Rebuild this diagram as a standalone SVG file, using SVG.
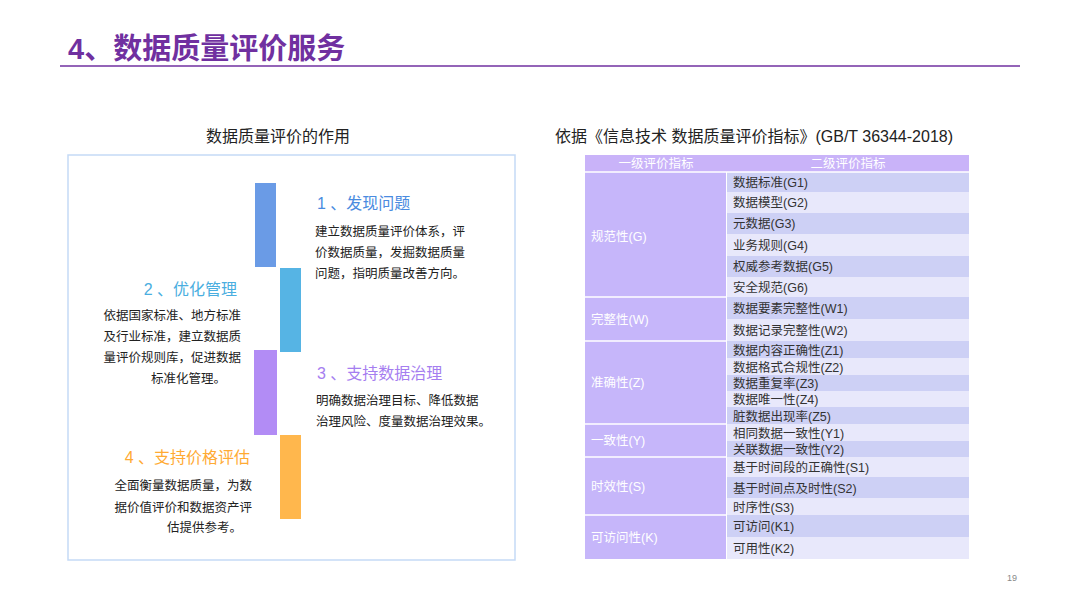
<svg xmlns="http://www.w3.org/2000/svg" width="1080" height="608" viewBox="0 0 1080 608">
<style>
text{font-family:"Liberation Sans","Noto Sans CJK SC",sans-serif}
.h{font-size:16px;fill:#222}
.body{font-size:12.5px;fill:#222}
.c1{fill:#c6b6fa}
.a{fill:#cdd0f5}
.b{fill:#e8e8fb}
.t1{font-size:12.5px;fill:#fff}
.t2{font-size:12.5px;fill:#333}
.sep{stroke:#fff;stroke-width:1.5}
</style>
<rect width="1080" height="608" fill="#fff"/>
<g id="title">
<text x="68" y="59" font-size="29" font-weight="bold" fill="#7030a0">4、数据质量评价服务</text>
<line x1="60" y1="66" x2="1020" y2="66" stroke="#7030a0" stroke-width="1.5"/>
</g>
<text class="h" x="278" y="142" text-anchor="middle">数据质量评价的作用</text>
<text class="h" x="555" y="142">依据《信息技术 数据质量评价指标》(GB/T 36344-2018)</text>
<g id="panel">
<rect x="68" y="155" width="447" height="405" fill="#fff" stroke="#c5daf6" stroke-width="1.5"/>
</g>
<g id="item1">
<rect x="255" y="183" width="21" height="84" fill="#6a9be6"/>
<text x="317" y="209" font-size="16" fill="#4a8be0">1 、发现问题</text>
<text class="body" x="315" y="236">建立数据质量评价体系，评</text>
<text class="body" x="315" y="257">价数据质量，发掘数据质量</text>
<text class="body" x="315" y="278">问题，指明质量改善方向。</text>
</g>
<g id="item2">
<rect x="280" y="268" width="21" height="84" fill="#56b4e4"/>
<text x="237" y="295" font-size="16" fill="#4aaee0" text-anchor="end">2 、优化管理</text>
<text class="body" x="241" y="320" text-anchor="end">依据国家标准、地方标准</text>
<text class="body" x="241" y="341" text-anchor="end">及行业标准，建立数据质</text>
<text class="body" x="241" y="362" text-anchor="end">量评价规则库，促进数据</text>
<text class="body" x="226" y="383" text-anchor="end">标准化管理。</text>
</g>
<g id="item3">
<rect x="254" y="350" width="23" height="85" fill="#b28cf5"/>
<text x="317" y="379" font-size="16" fill="#a57ef0">3 、支持数据治理</text>
<text class="body" x="316" y="405">明确数据治理目标、降低数据</text>
<text class="body" x="316" y="426">治理风险、度量数据治理效果。</text>
</g>
<g id="item4">
<rect x="280" y="435" width="21" height="84" fill="#ffb74d"/>
<text x="250" y="463" font-size="16" fill="#ffaa33" text-anchor="end">4 、支持价格评估</text>
<text class="body" x="252" y="490" text-anchor="end">全面衡量数据质量，为数</text>
<text class="body" x="252" y="512" text-anchor="end">据价值评价和数据资产评</text>
<text class="body" x="242" y="532" text-anchor="end">估提供参考。</text>
</g>
<g id="table">
<rect x="585" y="155" width="384" height="17" fill="#c9b3f9"/>
<text x="656" y="168" text-anchor="middle" font-size="12.5" fill="#fff">一级评价指标</text>
<text x="848" y="168" text-anchor="middle" font-size="12.5" fill="#fff">二级评价指标</text>
<rect class="c1" x="585" y="172" width="141" height="387"/>
<rect class="a" x="727" y="172" width="242" height="20"/><text class="t2" x="733" y="187">数据标准(G1)</text>
<rect class="b" x="727" y="192" width="242" height="21"/><text class="t2" x="733" y="207">数据模型(G2)</text>
<rect class="a" x="727" y="213" width="242" height="21"/><text class="t2" x="733" y="228">元数据(G3)</text>
<rect class="b" x="727" y="234" width="242" height="22"/><text class="t2" x="733" y="250">业务规则(G4)</text>
<rect class="a" x="727" y="256" width="242" height="21"/><text class="t2" x="733" y="271">权威参考数据(G5)</text>
<rect class="b" x="727" y="277" width="242" height="20"/><text class="t2" x="733" y="292">安全规范(G6)</text>
<rect class="a" x="727" y="297" width="242" height="22"/><text class="t2" x="733" y="313">数据要素完整性(W1)</text>
<rect class="b" x="727" y="319" width="242" height="22"/><text class="t2" x="733" y="335">数据记录完整性(W2)</text>
<rect class="a" x="727" y="341" width="242" height="17"/><text class="t2" x="733" y="355">数据内容正确性(Z1)</text>
<rect class="b" x="727" y="358" width="242" height="17"/><text class="t2" x="733" y="372">数据格式合规性(Z2)</text>
<rect class="a" x="727" y="375" width="242" height="16"/><text class="t2" x="733" y="388">数据重复率(Z3)</text>
<rect class="b" x="727" y="391" width="242" height="16"/><text class="t2" x="733" y="404">数据唯一性(Z4)</text>
<rect class="a" x="727" y="407" width="242" height="17"/><text class="t2" x="733" y="421">脏数据出现率(Z5)</text>
<rect class="b" x="727" y="424" width="242" height="17"/><text class="t2" x="733" y="438">相同数据一致性(Y1)</text>
<rect class="a" x="727" y="441" width="242" height="16"/><text class="t2" x="733" y="454">关联数据一致性(Y2)</text>
<rect class="b" x="727" y="457" width="242" height="20"/><text class="t2" x="733" y="472">基于时间段的正确性(S1)</text>
<rect class="a" x="727" y="477" width="242" height="21"/><text class="t2" x="733" y="493">基于时间点及时性(S2)</text>
<rect class="b" x="727" y="498" width="242" height="17"/><text class="t2" x="733" y="512">时序性(S3)</text>
<rect class="a" x="727" y="515" width="242" height="22"/><text class="t2" x="733" y="531">可访问(K1)</text>
<rect class="b" x="727" y="537" width="242" height="22"/><text class="t2" x="733" y="553">可用性(K2)</text>
<line class="sep" x1="585" y1="297" x2="726" y2="297"/>
<line class="sep" x1="585" y1="341" x2="726" y2="341"/>
<line class="sep" x1="585" y1="424" x2="726" y2="424"/>
<line class="sep" x1="585" y1="457" x2="726" y2="457"/>
<line class="sep" x1="585" y1="515" x2="726" y2="515"/>
<line class="sep" x1="585" y1="172" x2="969" y2="172"/>
<text class="t1" x="591" y="241">规范性(G)</text>
<text class="t1" x="591" y="324">完整性(W)</text>
<text class="t1" x="591" y="387">准确性(Z)</text>
<text class="t1" x="591" y="445">一致性(Y)</text>
<text class="t1" x="591" y="491">时效性(S)</text>
<text class="t1" x="591" y="542">可访问性(K)</text>
</g>
<text x="1007" y="581" font-size="9" fill="#888">19</text>
</svg>
